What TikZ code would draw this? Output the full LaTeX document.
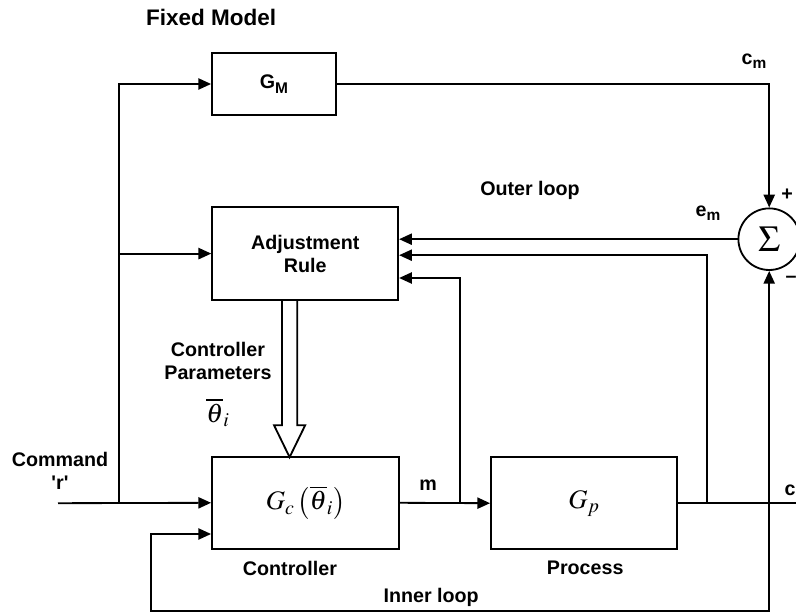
\documentclass[tikz,border=0pt]{standalone}
\usepackage{mathptmx}
\usepackage[no-math]{fontspec}
\setmainfont{Liberation Sans}
\usetikzlibrary{arrows.meta,positioning}

\newcommand{\lblfont}{\bfseries\fontsize{14}{16.5}\selectfont}
\newcommand{\mathfont}{\fontsize{19}{22}\selectfont}
\newcommand{\lowsub}[1]{\raisebox{-0.45ex}{\fontsize{11}{11}\selectfont #1}}

\tikzset{
  blk/.style={draw,line width=1.3pt,minimum width=4.65cm,minimum height=2.30cm,
    inner sep=0pt,align=center},
  wire/.style={line width=1.3pt},
  sig/.style={line width=1.3pt,-{Triangle[length=0.32cm,width=0.28cm]}},
  lbl/.style={font=\lblfont,align=center,inner sep=0pt}
}

\begin{document}
\begin{tikzpicture}[x=1cm,y=1cm]
\path[use as bounding box] (0,0) rectangle (19.90,15.33);
% blocks
\node[blk,minimum width=3.10cm,minimum height=1.55cm,font=\lblfont] (gm) at (6.85,13.23) {G\lowsub{M}};
\node[blk,minimum height=2.33cm,font=\lblfont] (adj) at (7.63,8.99) {Adjustment\\Rule};
\node[blk,minimum width=4.68cm] (ctrl) at (7.64,2.76) {\mathfont$G_c\left(\overline{\theta}_i\right)$};
\node[blk] (proc) at (14.60,2.75) {\mathfont$G_p$};
\node[circle,draw,line width=1.3pt,minimum size=1.54cm,inner sep=0pt] (sum) at (19.23,9.35)
  {\fontsize{26}{28}\selectfont$\Sigma$};
% branch points
\coordinate (cmd) at (1.45,2.75);
\coordinate (split) at (2.98,2.75);
\coordinate (mtap) at (11.50,2.75);
\coordinate (ctap) at (17.68,2.75);
\coordinate (fb) at (19.23,2.75);
\coordinate (cend) at (19.95,2.75);
% forward path
\draw[sig] (cmd) -- (ctrl.west);
\draw[sig] (split) |- (gm.west);
\draw[sig] (split) |- (adj.west);
\draw[sig] (ctrl.east) -- (proc.west);
\draw[wire] (proc.east) -- (cend);
\draw[sig] (gm.east) -| (sum.north);
% outer loop
\draw[sig] (sum.west) -- (sum.west -| adj.east);
\draw[sig] (ctap) |- ([yshift=-0.04cm]adj.east);
\draw[sig] (mtap) |- ([yshift=-0.61cm]adj.east);
\draw[sig] (fb) -- (sum.south);
% inner loop
\draw[sig] (fb) |- (3.78,0.05) |- ([yshift=-0.78cm]ctrl.west);
% parameter transfer
\draw[wire,fill=white] (7.05,7.80) -- (7.05,4.70) -- (6.85,4.70) -- (7.24,3.90)
  -- (7.63,4.70) -- (7.43,4.70) -- (7.43,7.80);
% labels
\node[lbl,font=\bfseries\fontsize{16}{18}\selectfont] (fixed) at (5.28,14.90) {Fixed Model};
\node[lbl] (cm) at (18.85,13.80) {c\lowsub{m}};
\node[lbl] (outer) at (13.25,10.58) {Outer loop};
\node[lbl] (em) at (17.70,10.00) {e\lowsub{m}};
\node[lbl] (plus) at (19.68,10.45) {+};
\node[lbl] (minus) at (19.78,8.35) {--};
\node[lbl] (par) at (5.45,6.30) {Controller\\Parameters};
\node[inner sep=0pt] (theta) at (5.45,5.02) {\mathfont$\overline{\theta}_i$};
\node[lbl] (cmdlbl) at (1.50,3.55) {Command\\\textquotesingle r\textquotesingle};
\node[lbl] (mlbl) at (10.70,3.20) {m};
\node[lbl] (clbl) at (19.75,3.08) {c};
\node[lbl] (ctrllbl) at (7.25,1.13) {Controller};
\node[lbl] (proclbl) at (14.63,1.13) {Process};
\node[lbl] (inner) at (10.78,0.40) {Inner loop};
\end{tikzpicture}
\end{document}
